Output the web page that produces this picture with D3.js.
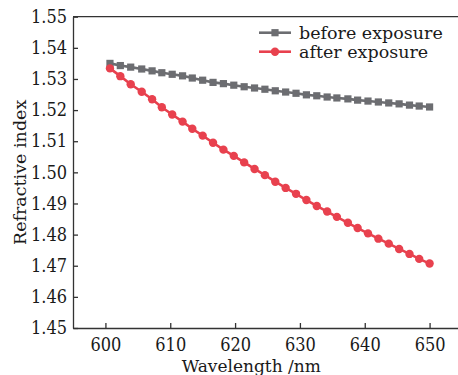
<!DOCTYPE html>
<html>
<head>
<meta charset="utf-8">
<script src="https://cdn.jsdelivr.net/npm/d3@7"></script>
<style>
    body { margin: 0; background: #fff; }
    .axis path, .axis line { stroke: #333; stroke-width: 1.3; }
    .axis text { font-family: "DejaVu Serif Condensed", "DejaVu Serif", serif; font-size: 18px; fill: #1a1a1a; }
    .axis-title { font-family: "DejaVu Serif", serif; font-size: 17px; fill: #1a1a1a; }
    .legend-text { font-family: "DejaVu Serif", serif; font-size: 17.5px; fill: #1a1a1a; }
</style>
</head>
<body>
<div id="chart"></div>
<script>
var wavelengths = [600.7, 602.3, 603.9, 605.6, 607.2, 608.7, 610.3, 611.9, 613.4, 615.0,
    616.6, 618.2, 619.8, 621.4, 623.0, 624.6, 626.2, 627.8, 629.4, 631.0,
    632.6, 634.2, 635.7, 637.4, 638.9, 640.5, 642.1, 643.7, 645.3, 646.9,
    648.4, 650.0];

var beforeExposure = [1.5350, 1.5343, 1.5338, 1.5332, 1.5326, 1.5320, 1.5315, 1.5310, 1.5303, 1.5296,
    1.5289, 1.5285, 1.5280, 1.5275, 1.5271, 1.5267, 1.5262, 1.5258, 1.5254, 1.5249,
    1.5246, 1.5242, 1.5239, 1.5236, 1.5232, 1.5229, 1.5226, 1.5223, 1.5220, 1.5216,
    1.5213, 1.5210];

var afterExposure = [1.5334, 1.5309, 1.5283, 1.5259, 1.5235, 1.5209, 1.5186, 1.5163, 1.5140, 1.5118,
    1.5095, 1.5073, 1.5053, 1.5032, 1.5011, 1.4991, 1.4970, 1.4950, 1.4931, 1.4911,
    1.4892, 1.4874, 1.4857, 1.4838, 1.4821, 1.4804, 1.4787, 1.4771, 1.4754, 1.4738,
    1.4722, 1.4707];

var xTicks = [600, 610, 620, 630, 640, 650];
var yTicks = [1.45, 1.46, 1.47, 1.48, 1.49, 1.50, 1.51, 1.52, 1.53, 1.54, 1.55];
var seriesNames = ["before exposure", "after exposure"];

var margin = {top: 16.7, right: 0, bottom: 47, left: 73},
    width = 389,
    height = 311.3;

var x = d3.scaleLinear().domain([595, 655]).range([0, width]);
var y = d3.scaleLinear().domain([1.45, 1.55]).range([height, 0]);

var svg = d3.select("#chart")
        .append("svg")
        .attr("width", 458)
        .attr("height", 375)
        .style("display", "block");

var canvas = svg.append("g")
        .attr("transform", "translate(" + margin.left + "," + margin.top + ")");

// top frame line (the right one falls outside the picture)
canvas.append("line")
        .attr("x1", 0).attr("x2", width)
        .attr("y1", 0).attr("y2", 0)
        .attr("stroke", "#333").attr("stroke-width", 1.3);

var xAxis = canvas.append("g")
        .attr("class", "axis")
        .attr("transform", "translate(0," + height + ")")
        .call(d3.axisBottom(x).tickValues(xTicks).tickSizeInner(-5).tickSizeOuter(0).tickPadding(10));
xAxis.selectAll("text").attr("dy", "0.71em");

canvas.append("g")
        .attr("class", "axis")
        .call(d3.axisLeft(y).tickValues(yTicks).tickFormat(d3.format(".2f")).tickSizeInner(-5).tickSizeOuter(0).tickPadding(6));

svg.append("text")
        .attr("class", "axis-title")
        .attr("x", margin.left + x(622.5))
        .attr("y", 372)
        .attr("text-anchor", "middle")
        .text("Wavelength /nm");

svg.append("text")
        .attr("class", "axis-title")
        .attr("transform", "translate(26," + (margin.top + y(1.5)) + ") rotate(-90)")
        .attr("text-anchor", "middle")
        .style("font-size", "17.5px")
        .text("Refractive index");

var series = [
    {name: seriesNames[0], values: beforeExposure, color: "#6c6d71", shape: "square"},
    {name: seriesNames[1], values: afterExposure, color: "#e8414e", shape: "circle"}
];

var line = d3.line()
        .x(function (d) { return x(d[0]); })
        .y(function (d) { return y(d[1]); });

series.forEach(function (s) {
    var pts = wavelengths.map(function (w, i) { return [w, s.values[i]]; });
    canvas.append("path")
            .datum(pts)
            .attr("fill", "none")
            .attr("stroke", s.color)
            .attr("stroke-width", 2.6)
            .attr("d", line);
    if (s.shape === "square") {
        canvas.selectAll(".sq")
                .data(pts)
                .enter()
                .append("rect")
                .attr("x", function (d) { return x(d[0]) - 3.6; })
                .attr("y", function (d) { return y(d[1]) - 3.6; })
                .attr("width", 7.2)
                .attr("height", 7.2)
                .attr("fill", s.color);
    } else {
        canvas.selectAll(".ci")
                .data(pts)
                .enter()
                .append("circle")
                .attr("cx", function (d) { return x(d[0]); })
                .attr("cy", function (d) { return y(d[1]); })
                .attr("r", 4.2)
                .attr("fill", s.color);
    }
});

// legend
var legend = svg.append("g");
series.forEach(function (s, i) {
    var ly = 32.7 + i * 19;
    legend.append("line")
            .attr("x1", 259).attr("x2", 291)
            .attr("y1", ly).attr("y2", ly)
            .attr("stroke", s.color)
            .attr("stroke-width", 2.6);
    if (s.shape === "square") {
        legend.append("rect")
                .attr("x", 275 - 3.6).attr("y", ly - 3.6)
                .attr("width", 7.2).attr("height", 7.2)
                .attr("fill", s.color);
    } else {
        legend.append("circle")
                .attr("cx", 275).attr("cy", ly)
                .attr("r", 4.2)
                .attr("fill", s.color);
    }
    legend.append("text")
            .attr("class", "legend-text")
            .attr("x", 299)
            .attr("y", ly + 5.8)
            .text(s.name);
});
</script>
</body>
</html>
